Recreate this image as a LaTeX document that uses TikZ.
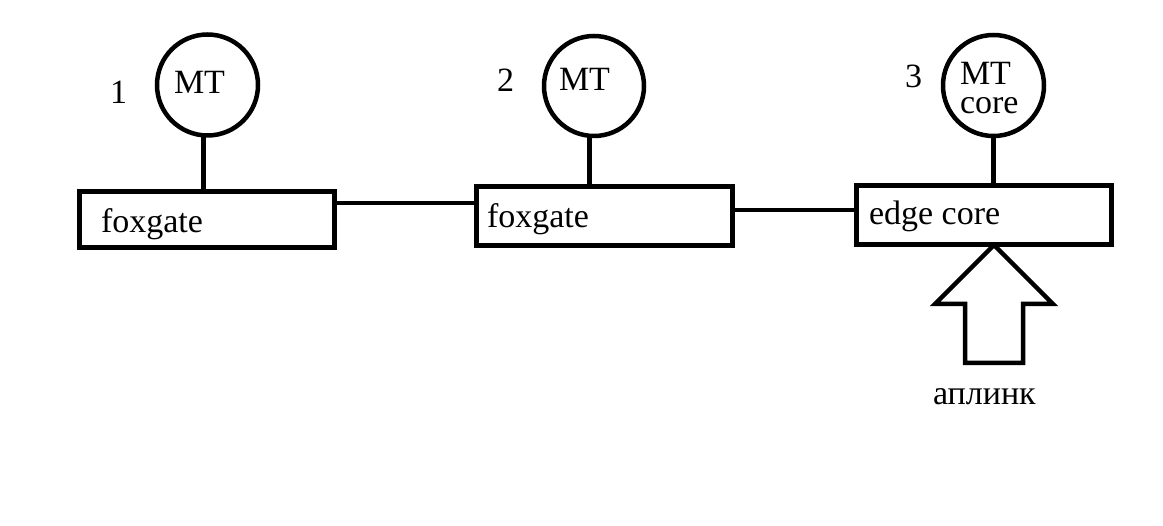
\documentclass[tikz,border=0pt]{standalone}
\usepackage{fontspec}
\setmainfont{Liberation Serif}
\begin{document}
\begin{tikzpicture}[x=1pt,y=-1pt,
  every node/.style={inner sep=0pt, outer sep=0pt},
  ln/.style={line width=4.5pt, black},
  boxnode/.style={ln, draw, rectangle, minimum width=#1},
  circnode/.style={ln, draw, circle, minimum size=101pt},
  lbl/.style={font=\fontsize{34pt}{36pt}\selectfont, anchor=base west}]
\useasboundingbox[fill=white] (0,0) rectangle (1163,526);
% boxes
\node[boxnode=255pt, minimum height=56pt] (b1) at (207,219.5) {};
\node[boxnode=256pt, minimum height=59pt] (b2) at (604.5,216) {};
\node[boxnode=255pt, minimum height=59pt] (b3) at (984,215) {};
% circles
\node[circnode] (c1) at (207.5,85) {};
\node[circnode, minimum size=100pt] (c2) at (594,86) {};
\node[circnode] (c3) at (993.5,85.5) {};
% texts
\node[lbl] (t1) at (101,233) {foxgate};
\node[lbl] (t2) at (487,228) {foxgate};
\node[lbl] (t3) at (869,225) {edge core};
\node[lbl] (m1) at (174,94) {MT};
\node[lbl] (m2) at (559,91) {MT};
\node[lbl, anchor=north west, align=left, font=\fontsize{34pt}{29pt}\selectfont] (m3) at (960,62) {MT\\core};
\node[lbl] (n1) at (110,104) {1};
\node[lbl] (n2) at (497,92) {2};
\node[lbl] (n3) at (905,88) {3};
\node[lbl] (up) at (933,405) {аплинк};
% vertical connectors
\coordinate (v1) at ([xshift=-4pt]c1.south);
\coordinate (v2) at ([xshift=-4.5pt]c2.south);
\coordinate (v3) at (c3.south);
\draw[ln] (v1) -- (v1 |- b1.north);
\draw[ln] (v2) -- (v2 |- b2.north);
\draw[ln] (v3) -- (v3 |- b3.north);
% horizontal connectors
\coordinate (k1) at ([yshift=16.5pt]b1.east);
\coordinate (k2) at ([yshift=6pt]b2.east);
\draw[ln] (k1) -- (k1 -| b2.west);
\draw[ln] (k2) -- (k2 -| b3.west);
% uplink block arrow
\draw[ln, line join=miter] (994,245) -- (1053,304) -- (1023,304) -- (1023,363)
  -- (965,363) -- (965,304) -- (935,304) -- cycle;
\end{tikzpicture}
\end{document}
